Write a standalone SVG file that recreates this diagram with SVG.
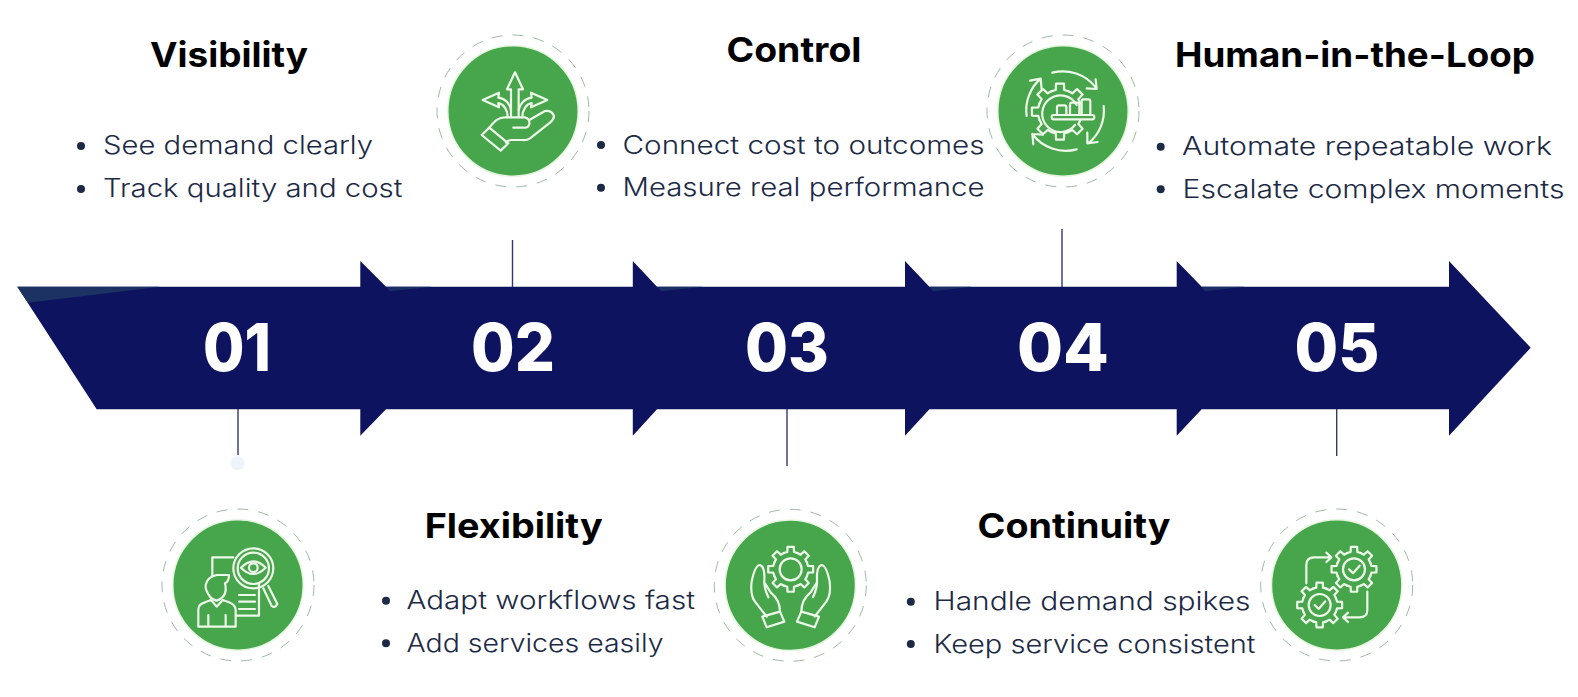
<svg xmlns="http://www.w3.org/2000/svg" xmlns:xlink="http://www.w3.org/1999/xlink" width="1578" height="697" viewBox="0 0 1578 697">
<style>
text{font-family:"Inter","Liberation Sans",sans-serif}
.title{font-size:34.5px;font-weight:700;fill:#000}
.item{font-size:25px;font-weight:300;fill:#1d2a45}
.num{font-size:66px;font-weight:800;fill:#fff}
.bullet{fill:#1d2a45}
.disc{fill:#47a64c;stroke:#e4f6de;stroke-width:1.5}
.ring{fill:none;stroke:#9dbba5;stroke-width:1;stroke-dasharray:11 10}
.ic,.ic *,#tooth,#palm *{fill:none;stroke:#eef8ea;stroke-width:2.2;stroke-linecap:round;stroke-linejoin:round;vector-effect:non-scaling-stroke}
.link{stroke:#34386f;stroke-width:1.4}
.sheen{fill:#1c3262}
.sheen2{fill:#1a2f63}
</style>
<defs>
<path id="tooth" d="M-29.8-72.1L-14.9-76.6L-13.9-99H13.9L14.9-76.6L29.8-72.1"/>
<g id="gear">
<use xlink:href="#tooth" href="#tooth"/>
<use xlink:href="#tooth" href="#tooth" transform="rotate(45)"/>
<use xlink:href="#tooth" href="#tooth" transform="rotate(90)"/>
<use xlink:href="#tooth" href="#tooth" transform="rotate(135)"/>
<use xlink:href="#tooth" href="#tooth" transform="rotate(180)"/>
<use xlink:href="#tooth" href="#tooth" transform="rotate(225)"/>
<use xlink:href="#tooth" href="#tooth" transform="rotate(270)"/>
<use xlink:href="#tooth" href="#tooth" transform="rotate(315)"/>
</g>
<g id="badge"><circle class="ring" r="76"/><circle class="disc" r="65.200"/></g>
<g id="palm"><path d="M190 292Q176 262 178 240Q180 200 165 195Q150 195 140 245Q135 285 150 305L185 350"/><path d="M172 350L225 335L238 365L185 382Z"/><path d="M225 335Q225 300 197 277L180 250"/></g>
</defs>
<g id="arrow">
<path fill="#0e1360" d="M17.3 286.7H360.3V261L386 286.7H632.8V261L657 286.7H905V261L929.4 286.7H1176.7V261L1201.7 286.7H1449V261L1530.7 347.7L1449 435.7V409.3H1201.7L1176.7 435.7V409.3H929.4L905 435.7V409.3H657L632.8 435.7V409.3H386L360.3 435.7V409.3H96.7Z"/>
<path class="sheen" d="M17.3 286.7H160L28 302.7Z"/>
<path class="sheen2" d="M386 286.7H432L390 291.2Z"/>
<path class="sheen2" d="M657 286.7H703L661.5 291.2Z"/>
<path class="sheen2" d="M929.4 286.7H972L933 291.2Z"/>
<path class="sheen2" d="M1201.7 286.7H1245L1205 291.2Z"/>
<text class="num" x="203" y="371" textLength="68" lengthAdjust="spacingAndGlyphs">01</text>
<text class="num" x="471" y="371" textLength="84" lengthAdjust="spacingAndGlyphs">02</text>
<text class="num" x="745" y="371" textLength="84" lengthAdjust="spacingAndGlyphs">03</text>
<text class="num" x="1017" y="371" textLength="92" lengthAdjust="spacingAndGlyphs">04</text>
<text class="num" x="1294.500" y="371" textLength="85" lengthAdjust="spacingAndGlyphs">05</text>
</g>
<g id="connectors">
<line class="link" x1="238" y1="409" x2="238" y2="455"/>
<line class="link" x1="512.500" y1="240" x2="512.500" y2="287"/>
<line class="link" x1="787" y1="409" x2="787" y2="466"/>
<line class="link" x1="1062" y1="229" x2="1062" y2="287"/>
<line class="link" x1="1336.700" y1="409" x2="1336.700" y2="456"/>
<circle cx="237.700" cy="463.300" r="7" fill="#eef5fa"/>
</g>
<g id="node-visibility">
<text class="title" x="150" y="66.700" textLength="158" lengthAdjust="spacingAndGlyphs">Visibility</text>
<circle class="bullet" cx="81" cy="146" r="4"/><text class="item" x="103" y="154" textLength="270" lengthAdjust="spacingAndGlyphs">See demand clearly</text>
<circle class="bullet" cx="81" cy="189" r="4"/><text class="item" x="103" y="197" textLength="299.500" lengthAdjust="spacingAndGlyphs">Track quality and cost</text>
<use xlink:href="#badge" href="#badge" x="238" y="585"/>
<g class="ic" transform="translate(155 450) scale(.3333)">
<path d="M235 322H172V378M312 400V497H243M252 435H300M252 455H300M252 477H300"/>
<circle cx="295" cy="355" r="60"/><circle cx="295" cy="355" r="47"/>
<path d="M258 353Q295 315 332 353Q295 391 258 353Z"/><circle cx="295" cy="353" r="13"/>
<path d="M325 415L350 468Q360 476 367 462L340 408"/>
<path d="M165 440Q150 420 152 405Q158 380 185 375H222Q222 395 210 400Q220 440 185 452Q172 450 165 440Z"/>
<path d="M130 530V478Q130 462 150 457L168 450L185 470L203 450L222 457Q242 465 242 480V530ZM160 495V530M212 495V530"/>
</g>
</g>
<g id="node-control">
<text class="title" x="726.500" y="61.700" textLength="135" lengthAdjust="spacingAndGlyphs">Control</text>
<circle class="bullet" cx="601" cy="145" r="4"/><text class="item" x="622.500" y="154" textLength="362" lengthAdjust="spacingAndGlyphs">Connect cost to outcomes</text>
<circle class="bullet" cx="601" cy="187.700" r="4"/><text class="item" x="622.500" y="196.300" textLength="362" lengthAdjust="spacingAndGlyphs">Measure real performance</text>
<use xlink:href="#badge" href="#badge" x="513" y="111"/>
<g class="ic" transform="translate(430 30) scale(.3333)">
<path d="M243 262V178H231L255 127L279 178H266V262"/>
<path d="M233 262C233 240 222 222 205 219L207 232L158 210L207 188L205 203C226 205 240 222 243 240"/>
<path d="M277 262C277 240 288 222 305 219L303 232L352 210L303 188L305 203C284 205 270 222 266 240"/>
<path d="M155 315L178 293L235 340L212 362Z"/>
<path d="M178 293C195 272 205 262 225 262H285Q300 266 298 282Q295 295 280 293H250"/>
<path d="M298 270L345 243Q365 240 372 258Q372 268 360 278L300 325Q290 332 275 330H245Q235 330 228 338"/>
</g>
</g>
<g id="node-human-in-the-loop">
<text class="title" x="1175" y="66.700" textLength="360" lengthAdjust="spacingAndGlyphs">Human-in-the-Loop</text>
<circle class="bullet" cx="1160.700" cy="146.700" r="4"/><text class="item" x="1182" y="155" textLength="370" lengthAdjust="spacingAndGlyphs">Automate repeatable work</text>
<circle class="bullet" cx="1160.700" cy="189.300" r="4"/><text class="item" x="1182.500" y="198" textLength="382" lengthAdjust="spacingAndGlyphs">Escalate complex moments</text>
<use xlink:href="#badge" href="#badge" x="1063" y="111"/>
<g class="ic" transform="translate(975 30) scale(.3333)">
<path d="M232 128A125 125 0 0 1 362 172M335 175L365 177L362 148"/>
<path d="M386 228A125 125 0 0 1 340 340M337 308L337 340L368 336"/>
<path d="M305 358A125 125 0 0 1 172 312M175 343L172 312L204 314"/>
<path d="M155 258A125 125 0 0 1 197 146M165 152L197 146L200 178"/>
<g transform="translate(255 245) scale(.85)">
<use xlink:href="#tooth" href="#tooth"/>
<use xlink:href="#tooth" href="#tooth" transform="rotate(45)"/>
<use xlink:href="#tooth" href="#tooth" transform="rotate(135)"/>
<use xlink:href="#tooth" href="#tooth" transform="rotate(180)"/>
<use xlink:href="#tooth" href="#tooth" transform="rotate(225)"/>
<use xlink:href="#tooth" href="#tooth" transform="rotate(270)"/>
<use xlink:href="#tooth" href="#tooth" transform="rotate(315)"/>
</g>
<path d="M305 225A55 55 0 1 0 300 285"/>
<path d="M246 255V232Q246 226 252 226H268Q274 226 274 232V255M285 255V224Q285 218 291 218H307Q313 218 313 224V255M320 255V214Q320 208 326 208H340Q346 208 346 214V255"/>
<rect x="230" y="255" width="128" height="13" rx="6"/>
</g>
</g>
<g id="node-flexibility">
<text class="title" x="424.700" y="537.700" textLength="178" lengthAdjust="spacingAndGlyphs">Flexibility</text>
<circle class="bullet" cx="386" cy="600.700" r="4"/><text class="item" x="406.500" y="609" textLength="288.500" lengthAdjust="spacingAndGlyphs">Adapt workflows fast</text>
<circle class="bullet" cx="386" cy="643.300" r="4"/><text class="item" x="406.500" y="651.700" textLength="257" lengthAdjust="spacingAndGlyphs">Add services easily</text>
<use xlink:href="#badge" href="#badge" x="790.300" y="585.300"/>
<g class="ic" transform="translate(705 500) scale(.3333)">
<use xlink:href="#gear" href="#gear" transform="translate(257 208) scale(.68)"/>
<circle cx="257" cy="208" r="33"/>
<use xlink:href="#palm" href="#palm"/>
<use xlink:href="#palm" href="#palm" transform="translate(514 0) scale(-1 1)"/>
</g>
</g>
<g id="node-continuity">
<text class="title" x="977.500" y="537.700" textLength="193" lengthAdjust="spacingAndGlyphs">Continuity</text>
<circle class="bullet" cx="910.800" cy="601.700" r="4"/><text class="item" x="933.500" y="610" textLength="317" lengthAdjust="spacingAndGlyphs">Handle demand spikes</text>
<circle class="bullet" cx="910.800" cy="644" r="4"/><text class="item" x="933.500" y="652.800" textLength="322" lengthAdjust="spacingAndGlyphs">Keep service consistent</text>
<use xlink:href="#badge" href="#badge" x="1336.700" y="585"/>
<g class="ic" transform="translate(1248 500) scale(.3333)">
<use xlink:href="#gear" href="#gear" transform="translate(318 208) scale(.68)"/>
<circle cx="318" cy="208" r="33"/><path d="M303 208L315 220L335 197"/>
<use xlink:href="#gear" href="#gear" transform="translate(215 315) scale(.68)"/>
<circle cx="215" cy="315" r="33"/><path d="M200 315L212 327L232 304"/>
<path d="M175 250V195Q175 172 198 172H250M235 158L250 172L235 186"/>
<path d="M358 275V330Q358 352 335 352H285M300 338L285 352L300 366"/>
</g>
</g>
</svg>
